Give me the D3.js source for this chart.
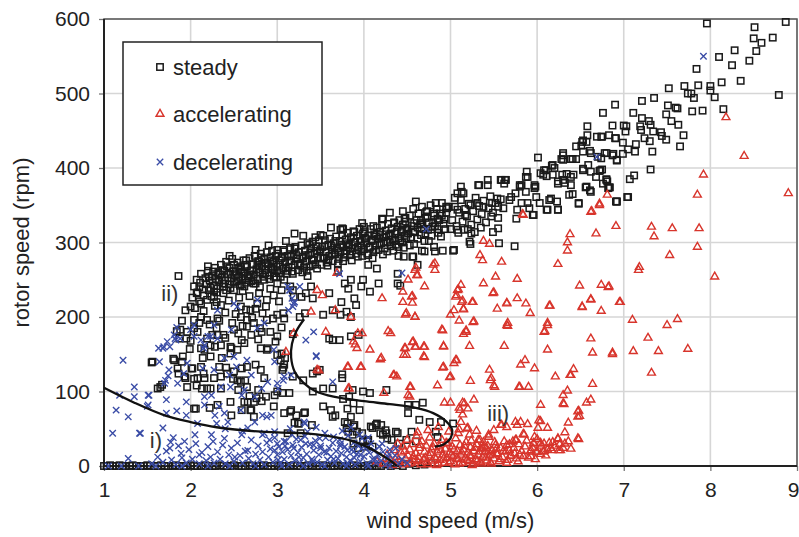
<!DOCTYPE html>
<html>
<head>
<meta charset="utf-8">
<script src="https://cdn.jsdelivr.net/npm/d3@7"></script>
<style>
  html, body { margin: 0; padding: 0; background: #fff; }
  svg { display: block; }
  text { font-family: "Liberation Sans", Arial, Helvetica, sans-serif; }
</style>
</head>
<body>
<svg id="chart" width="799" height="537"></svg>
<script>
// Axis ticks
const xTicks = [1, 2, 3, 4, 5, 6, 7, 8, 9];
const yTicks = [0, 100, 200, 300, 400, 500, 600];

const seriesNames = ["steady", "accelerating", "decelerating"];
const annotations = [["ii)", 1.76, 232], ["i)", 1.6, 35], ["iii)", 5.55, 71]];

// Trajectory i): decelerating branch
const curveI = [[1.0,105],[1.35,85],[1.7,68],[2.0,59],[2.3,52],[2.6,48],[3.0,45],[3.3,44],[3.6,40],[3.85,34],[4.05,25],[4.2,15],[4.32,6],[4.38,0]];
// Trajectory ii) -> iii)
const curveII = [[3.31,197],[3.22,181],[3.17,164],[3.16,146],[3.2,127],[3.3,112],[3.45,100],[3.65,93],[4.0,87],[4.3,83],[4.6,78],[4.8,71],[4.95,60],[5.02,48],[5.0,37],[4.92,29],[4.82,26]];

// Steady points: rotor idle at 0 rpm
const steadyIdle = [[1.0,0],[1.03,0],[1.07,1],[1.1,0],[1.14,0],[1.18,1],[1.21,0],[1.25,0],[1.3,0],[1.33,1],[1.37,0],[1.42,0],[1.46,0],[1.5,1],[1.53,0],[1.58,0],[1.62,0],[1.66,1],[1.7,0],[1.74,0],[1.79,0],[1.83,1],[1.87,0],[1.92,0],[1.95,0],[2.0,1],[2.04,0],[2.08,0],[2.13,0],[2.17,1],[2.2,0],[2.25,0],[2.29,0],[2.34,1],[2.38,0],[2.42,0],[2.46,0],[2.5,1],[2.55,0],[2.59,0],[2.63,0],[2.68,1],[2.71,0],[2.76,0],[2.8,0],[2.84,1],[2.89,0],[2.93,0],[2.97,0],[3.02,1],[3.06,0],[3.1,0],[3.15,0],[3.19,1],[3.23,0],[3.27,0],[3.32,0],[3.36,1],[3.4,0],[3.45,0],[3.49,0],[3.53,1],[3.57,0],[3.62,0],[3.66,0],[3.7,1],[3.75,0],[3.79,0],[3.84,0],[3.88,1],[3.92,0],[3.97,0],[4.01,0],[4.06,1],[4.1,0],[4.15,0],[4.2,0],[4.25,2],[4.31,0],[4.38,1],[4.45,0],[4.52,3],[4.6,1],[4.7,2],[4.78,4]];

// Steady points: low-wind cloud (region ii)
const steadyLow = [[1.55,139],[1.56,140],[1.62,104],[1.65,106],[1.67,109],[1.8,144],[1.81,142],[1.84,181],[1.85,131],[1.86,124],[1.86,255],[1.87,171],[1.88,183],[1.9,140],[1.91,147],[1.93,120],[1.94,118],[1.94,209],[1.95,171],[1.96,106],[1.96,180],[1.99,157],[2.0,214],[2.01,131],[2.02,131],[2.04,117],[2.04,77],[2.04,185],[2.04,196],[2.06,77],[2.07,108],[2.07,232],[2.08,118],[2.08,180],[2.1,240],[2.12,133],[2.12,158],[2.12,200],[2.12,218],[2.13,104],[2.14,145],[2.15,124],[2.16,118],[2.16,156],[2.19,104],[2.19,171],[2.19,196],[2.19,223],[2.22,78],[2.23,104],[2.23,147],[2.23,162],[2.27,118],[2.27,227],[2.28,160],[2.31,82],[2.31,176],[2.31,198],[2.33,133],[2.35,104],[2.35,120],[2.36,145],[2.35,162],[2.35,216],[2.38,176],[2.38,232],[2.41,132],[2.42,124],[2.46,86],[2.46,151],[2.46,160],[2.47,68],[2.47,158],[2.49,117],[2.5,127],[2.5,183],[2.5,236],[2.54,115],[2.54,156],[2.55,102],[2.58,113],[2.58,200],[2.58,214],[2.59,75],[2.59,131],[2.59,169],[2.62,86],[2.62,241],[2.63,115],[2.65,106],[2.65,133],[2.65,187],[2.65,196],[2.66,86],[2.68,94],[2.69,75],[2.69,209],[2.7,75],[2.7,176],[2.73,86],[2.73,66],[2.73,192],[2.73,245],[2.75,136],[2.76,91],[2.77,218],[2.78,102],[2.8,185],[2.81,129],[2.81,158],[2.82,87],[2.82,180],[2.85,118],[2.85,250],[2.87,93],[2.88,156],[2.88,196],[2.88,223],[2.89,158],[2.96,80],[2.96,229],[2.96,254],[2.97,95],[2.98,167],[3.0,100],[3.0,149],[3.0,174],[3.0,203],[3.04,142],[3.06,98],[3.06,129],[3.08,136],[3.08,198],[3.08,250],[3.08,71],[3.15,73],[3.15,241],[3.19,227],[3.31,71],[3.25,57],[3.4,55],[3.12,44],[3.27,44],
[2.15,208],[2.22,190],[2.28,215],[2.33,195],[2.4,206],[2.44,222],[2.48,192],[2.52,204],[2.56,226],[2.6,188],[2.64,210],[2.68,228],[2.71,199],[2.75,211],[2.79,232],[2.83,205],[2.87,214],[2.92,238],[2.95,198],[3.02,221],[3.05,236],[2.4,172],[2.55,178],[2.62,165],[2.78,170],[2.92,180],[3.05,186],[2.3,185],[2.0,168],[1.9,195],[2.1,192],[2.25,176]];

// Steady points: mid-wind region inside trajectory iii
const steadyMid = [[3.05,151],[3.07,132],[3.07,205],[3.09,145],[3.14,98],[3.16,75],[3.18,120],[3.18,177],[3.18,236],[3.2,58],[3.22,68],[3.24,57],[3.26,200],[3.28,227],[3.3,115],[3.32,72],[3.32,205],[3.33,232],[3.39,241],[3.41,100],[3.41,124],[3.41,225],[3.46,127],[3.49,129],[3.53,80],[3.53,104],[3.53,203],[3.6,171],[3.6,232],[3.62,75],[3.64,66],[3.64,104],[3.64,169],[3.64,209],[3.67,68],[3.72,169],[3.73,203],[3.74,220],[3.75,118],[3.75,123],[3.76,90],[3.78,59],[3.78,245],[3.8,51],[3.8,207],[3.81,57],[3.81,77],[3.82,46],[3.82,238],[3.83,93],[3.85,66],[3.85,174],[3.85,200],[3.85,250],[3.87,42],[3.87,102],[3.88,30],[3.88,53],[3.88,84],[3.89,55],[3.89,225],[3.91,216],[3.92,46],[3.93,24],[3.94,176],[3.95,75],[3.97,241],[3.98,44],[3.99,33],[3.99,100],[3.99,250],[4.01,26],[4.04,33],[4.05,35],[4.07,98],[4.07,234],[4.08,53],[4.1,26],[4.1,51],[4.14,55],[4.15,57],[4.15,265],[4.17,245],[4.19,44],[4.2,55],[4.22,42],[4.25,48],[4.26,44],[4.26,102],[4.27,37],[4.32,35],[4.37,46],[4.39,44],[4.39,245],[4.39,258],[4.41,30],[4.42,242],[4.49,35],[4.51,71],[4.51,82],[4.55,46],[4.57,281],[4.6,33],[4.6,82],[4.64,62],[4.68,85],[4.7,288],[4.76,59],[4.82,288],[4.83,46],[4.85,39],[4.89,59],[4.91,289],[5.03,57],[5.03,289],[4.81,294],[4.67,289],[4.56,281],[4.46,281],[4.62,270]];

// Steady points: main operating band
const steadyBand = [[2.02,226],[2.04,241],[2.05,212],[2.07,250],[2.08,233],[2.1,221],[2.11,246],[2.12,258],[2.14,237],[2.15,229],[2.17,252],[2.18,244],[2.2,262],[2.21,236],[2.22,249],[2.24,228],[2.25,255],[2.27,242],[2.28,266],[2.29,251],[2.31,238],[2.32,259],[2.33,247],[2.35,270],[2.36,253],[2.37,241],[2.39,262],[2.4,249],[2.41,274],[2.43,257],[2.44,244],[2.45,266],[2.47,252],[2.48,278],[2.49,261],[2.5,247],
[2.52,261],[2.53,248],[2.54,273],[2.56,254],[2.57,242],[2.58,264],[2.6,251],[2.61,276],[2.62,258],[2.64,246],[2.65,268],[2.66,255],[2.68,279],[2.69,262],[2.7,248],[2.72,271],[2.73,257],[2.74,282],[2.76,264],[2.77,251],[2.78,275],[2.8,260],[2.81,285],[2.82,268],[2.84,254],[2.85,278],[2.86,263],[2.88,287],[2.89,271],[2.9,256],[2.92,280],[2.93,266],[2.94,289],[2.96,274],[2.97,259],[2.98,282],
[3.0,263],[3.01,285],[3.03,270],[3.04,254],[3.05,279],[3.07,265],[3.08,288],[3.09,273],[3.11,258],[3.12,282],[3.13,267],[3.15,291],[3.16,275],[3.17,261],[3.19,284],[3.2,270],[3.21,294],[3.23,278],[3.24,263],[3.25,287],[3.27,272],[3.28,296],[3.29,281],[3.31,266],[3.32,289],[3.33,275],[3.35,299],[3.36,283],[3.37,268],[3.39,292],[3.4,277],[3.41,301],[3.43,285],[3.44,271],[3.45,295],[3.47,280],[3.48,303],[3.49,288],
[3.51,270],[3.52,294],[3.53,279],[3.55,303],[3.56,287],[3.57,273],[3.59,297],[3.6,282],[3.61,305],[3.63,290],[3.64,275],[3.65,299],[3.67,284],[3.68,308],[3.69,292],[3.71,278],[3.72,302],[3.73,287],[3.75,310],[3.76,295],[3.77,280],[3.79,304],[3.8,289],[3.81,313],[3.83,297],[3.84,283],[3.85,307],[3.87,292],[3.88,315],[3.89,300],[3.91,285],[3.92,309],[3.93,294],[3.95,318],[3.96,302],[3.97,288],[3.99,312],
[4.0,291],[4.01,315],[4.03,299],[4.04,285],[4.05,309],[4.07,294],[4.08,318],[4.09,302],[4.11,287],[4.12,311],[4.13,296],[4.15,320],[4.16,305],[4.17,290],[4.19,314],[4.2,299],[4.21,323],[4.23,307],[4.24,292],[4.25,316],[4.27,301],[4.28,325],[4.29,309],[4.31,295],[4.32,319],[4.33,304],[4.35,327],[4.36,312],[4.37,297],[4.39,321],[4.4,306],[4.41,330],[4.43,314],[4.44,300],[4.45,324],[4.47,309],[4.48,333],[4.49,317],
[4.51,312],[4.53,336],[4.55,322],[4.57,345],[4.59,315],[4.61,330],[4.63,339],[4.65,324],[4.67,348],[4.69,318],[4.71,333],[4.73,342],[4.75,327],[4.77,350],[4.79,321],[4.81,336],[4.84,345],[4.87,330],[4.9,353],[4.92,325],[4.95,340],[4.98,348],
[2.23,239],[2.26,261],[2.3,233],[2.34,257],[2.38,245],[2.42,268],[2.46,239],[2.51,256],[2.55,266],[2.59,244],[2.63,270],[2.67,252],[2.71,262],[2.75,245],[2.79,268],[2.83,257],[2.87,273],[2.91,251],[2.95,264],[2.99,270],[3.02,259],[3.06,281],[3.1,266],[3.14,276],[3.18,258],[3.22,283],[3.26,269],[3.3,279],[3.34,262],[3.38,286],[3.42,276],[3.46,265],[3.5,291],[3.54,280],[3.58,269],[3.62,296],[3.66,286],[3.7,272],[3.74,297],[3.78,285],[3.82,294],[3.86,276],[3.9,301],[3.94,290],[3.98,282],[4.02,305],[4.06,293],[4.1,279],[4.14,308],[4.18,297],[4.22,284],[4.26,311],[4.3,300],[4.34,289],[4.38,315],[4.42,303],[4.46,293],[4.5,319],[4.54,307],[4.58,298],[4.62,320],[4.66,310],[4.7,302],[4.74,317],[4.78,309],[4.82,322],[4.86,313],[4.9,336],[4.94,318],
[2.21,254],[2.27,234],[2.32,249],[2.37,263],[2.41,236],[2.46,258],[2.5,270],[2.55,249],[2.59,261],[2.64,276],[2.68,257],[2.72,249],[2.77,270],[2.82,280],[2.86,259],[2.9,268],[2.94,276],[2.99,253],[3.03,276],[3.07,290],[3.12,262],[3.16,281],[3.2,292],[3.24,271],[3.29,260],[3.33,283],[3.37,297],[3.41,270],[3.46,289],[3.5,279],[3.55,295],[3.59,276],[3.63,285],[3.67,302],[3.71,289],[3.76,275],[3.8,299],[3.84,288],[3.88,305],[3.93,281],[3.97,296],[4.01,306],[4.05,283],[4.1,304],[4.14,290],[4.18,310],[4.23,300],[4.27,288],[4.31,312],[4.36,302],[4.4,294],[4.44,317],[4.49,306],[4.53,296],[4.57,314],[4.62,305],[4.66,326],[4.71,312],[4.75,302],[4.8,326],[4.85,318],[4.89,308],[4.93,331],
[2.45,282],[2.9,296],[3.3,309],[3.62,320],[3.98,326],[4.45,342],[2.2,268],[2.75,290],[3.1,302],[4.3,340],[3.2,312],[4.6,355],[2.6,235],[3.0,245],[3.35,255],[3.7,262],[4.05,270],[4.4,282],[2.3,220],[2.8,240],
[3.75,319],[4.0,321],[4.11,322],[4.21,332],[3.5,310],[3.44,307],[3.15,293],[3.0,290],[2.79,274],[2.58,268],[4.35,326],[3.76,318],[3.89,314],[4.22,331],[4.47,332],[4.83,353],[4.72,341],[4.95,348],[3.53,309],[3.41,301],[3.73,317],
[5.02,330],[5.05,348],[5.07,322],[5.1,340],[5.12,357],[5.14,328],[5.17,345],[5.19,335],[5.21,352],[5.24,324],[5.26,342],[5.29,360],[5.31,331],[5.33,349],[5.36,338],[5.38,356],[5.41,327],[5.44,346],[5.46,362],[5.49,340],[5.52,353],[5.55,333],[5.58,358],[5.61,346],[5.0,318],[5.09,313],[5.2,318],[5.35,320],[5.05,360],[5.15,366]];

// Steady points: high wind
const steadyHigh = [[5.32,377],[5.43,377],[5.62,379],[5.82,377],[5.97,377],[6.24,379],[6.57,375],[6.62,368],[6.76,379],[6.82,373],[6.91,355],[6.48,352],[6.37,364],[6.24,344],[6.12,344],[6.14,357],[6.03,353],[5.95,337],[5.76,332],[5.91,346],[5.82,353],[5.68,357],[5.55,348],[5.47,335],[5.49,314],[5.55,319],[5.28,314],[5.24,312],[5.16,317],[5.08,317],[5.22,301],[5.23,298],[5.56,299],[5.74,295],[5.04,290],
[6.58,456],[6.58,444],[6.69,442],[6.45,429],[6.52,435],[6.57,435],[6.53,422],[6.62,420],[6.01,414],[6.3,417],[6.3,411],[6.41,412],[6.45,412],[6.17,403],[6.2,400],[6.08,397],[5.88,395],[5.87,388],[6.04,393],[6.11,389],[6.29,391],[6.34,392],[6.42,391],[6.32,380],[6.24,382],[6.53,399],[6.62,395],[6.56,374],[6.72,396],[6.81,382],[5.58,384],[5.63,384],[5.43,384],[5.33,377],[5.13,368],[5.08,366],[5.8,375],[5.98,375],[5.87,368],[5.75,366],[5.7,361],[5.99,361],[6.16,359],[6.23,355],[6.41,365],[6.48,353],[5.89,353],[6.11,344],[6.24,344],[5.96,337],[5.77,344],[5.54,359],[5.48,353],[5.38,348],[5.31,353],[5.23,350],[5.17,337],[5.08,344],[4.96,346],[4.88,339],[4.81,339],[4.85,332],[4.73,335],[4.66,330],[4.58,326],[4.48,328],[6.92,355],[7.04,361],
[6.76,474],[6.53,437],[6.51,430],[6.3,420],[6.39,412],[6.28,412],[6.74,442],[6.83,444],[6.91,440],[6.61,423],[6.7,415],[6.74,413],[6.8,420],[6.87,417],[6.92,411],[6.53,397],[6.59,404],[6.73,397],[6.68,388],[6.8,384],[6.61,370],[6.83,374],[6.18,404],[6.1,397],[6.07,391],[5.89,388],[6.18,391],[6.3,384],[6.39,388],[6.39,377],[5.8,377],[5.97,373],[5.59,384],[5.64,384],[5.12,375],
[7.96,594],[8.51,589],[8.87,596],[8.5,574],[8.59,568],[8.72,575],[8.53,557],[8.45,544],[8.28,558],[8.25,538],[8.1,549],[7.84,533],[8.35,517],[8.13,515],[8.79,498],[7.7,510],[7.86,511],[7.52,507],[8.0,510],[8.0,504],[8.05,495],[7.74,500],[7.78,500],[7.81,494],[7.21,490],[7.35,494],[6.9,485],[7.51,484],[7.6,481],[7.62,480],[7.49,472],[7.79,476],[7.91,477],[8.15,479],[7.11,474],[7.21,467],[7.29,463],[7.31,458],[7.55,463],[7.63,458],[6.87,457],[7.0,457],[7.03,456],[7.02,449],[7.19,456],[7.2,451],[7.34,449],[7.43,448],[7.44,443],[7.49,438],[7.69,444],[7.65,429],[6.75,442],[6.9,440],[6.99,434],[7.14,432],[7.24,440],[7.3,436],[7.05,425],[7.13,422],[7.33,422],[6.78,420],[6.88,419],[6.92,410],[6.99,419],[7.31,398],[7.12,390],[7.07,385],[6.8,385],[6.84,374],[7.05,361],[6.92,355],[6.75,398]];

// Accelerating points
const accelerating = [[8.18,468],[8.39,416],[7.92,391],[7.85,364],[8.9,366],[6.81,364],[6.72,352],[6.63,342],[6.91,322],[6.68,312],[6.38,311],[6.35,300],[6.35,289],[6.24,271],[7.32,321],[7.35,308],[7.56,319],[7.87,319],[7.85,294],[7.53,283],[7.18,267],[5.83,338],[5.38,302],[5.45,298],[5.34,283],[5.37,276],[5.59,274],[4.8,270],[4.6,266],
[8.05,254],[7.17,263],[6.49,242],[6.74,243],[6.82,240],[6.62,223],[6.95,220],[6.52,213],[6.74,208],[6.14,215],[7.1,196],[7.62,197],[7.5,189],[7.28,172],[7.74,157],[7.4,154],[7.11,154],[6.87,152],[6.64,152],[6.62,171],[6.12,189],[6.08,180],[6.12,156],[7.32,125],[6.64,110],[6.42,130],[6.39,122],[6.21,120],[5.97,131],[5.81,136],[5.9,106],[5.79,106],[5.45,129],[5.46,115],[5.51,106],[5.23,114],[4.85,108],[4.99,119],[4.92,133],[5.04,138],[5.06,142],[4.92,161],[5.22,161],[5.62,161],[4.91,182],[5.15,177],[5.18,182],[5.26,193],[5.1,195],[5.0,203],[5.65,189],[5.92,205],[5.54,211],[5.77,225],[5.87,218],[5.65,219],[5.49,232],[5.38,245],[5.52,254],[5.77,251],[5.25,220],[5.13,220],[5.15,211],[5.04,209],[5.06,227],[5.12,243],[5.09,237],[4.61,256],[4.56,228],[4.56,219],[4.59,200],[4.48,203],[4.48,158],[4.56,166],[4.59,160],[4.69,160],[4.7,146],[4.46,149],[4.54,106],[4.53,93],[4.93,85],[5.0,85],[5.14,85],[5.2,77],[5.27,89],[5.11,75],[5.09,44],[5.19,50],[5.22,42],[5.24,34],[5.34,35],[5.44,39],[5.37,24],[5.59,55],[5.65,52],[5.77,55],[5.81,59],[5.89,56],[5.75,35],[5.85,42],[5.97,39],[6.02,61],[6.01,51],[6.12,51],[6.04,31],[5.96,31],[6.0,19],[5.92,19],[6.07,19],[6.17,21],[6.25,21],[6.24,36],[6.32,45],[6.36,58],[6.32,30],[6.39,23],[6.47,37],[6.47,66],[6.47,73],[6.3,84],[5.86,142],
[5.18,180],[5.66,188],[6.09,181],[6.87,150],[5.07,142],[5.47,118],[5.5,108],[5.8,106],[6.38,122],[6.35,101],[6.3,95],[6.31,83],[6.57,85],[6.62,89],[6.04,82],[5.16,84],[5.1,78],[5.14,69],[5.12,59],[5.2,51],[5.58,55],[5.75,59],[5.84,43],[5.76,35],[6.04,60],[6.24,37],[6.27,21],[6.16,24],[6.48,36],[6.48,74],[6.49,67],[5.44,42],[5.51,32],[5.32,35],[5.41,24],[5.53,17],[5.65,28],[5.68,21],[5.74,17],[5.8,15],[5.93,21],[5.96,30],[5.99,19],[6.08,20],[6.08,30],[5.93,13],
[3.93,178],[3.9,163],[3.92,158],[4.07,156],[4.2,145],[3.97,133],[3.82,133],[4.34,122],[3.82,104],[4.53,106],[4.51,95],[4.28,181],[4.57,167],[4.6,160],[4.47,158],[4.49,149],[4.7,160],[4.69,147],[4.9,183],[4.92,160],[4.91,132],[5.0,120],[3.48,128],[3.69,259],[3.46,236],[3.52,229],[3.39,207],[3.67,209],[3.85,200],[4.21,225],[3.98,178],[3.88,167],[4.31,178],[4.19,143],[3.56,180],[3.46,129],[3.81,133],[3.96,133],[4.35,122],[4.38,120],[3.83,104],[4.23,98],[3.1,153],[3.19,178],[4.49,205],[4.59,200],[4.45,234],[4.45,220],[4.55,227],[4.51,250],[4.59,263],[4.62,256],[4.7,241],[4.82,272],[4.82,263],[6.72,350],[6.62,341],[5.84,337],[5.08,236],[5.5,233],[5.65,218],[5.26,220],[5.14,222],[5.15,210],[5.07,229],[6.15,215],[6.83,241],[6.62,224],[6.52,214],[6.96,220],[6.12,192],[5.66,192],[5.27,194],
[4.15,6],[4.22,3],[4.27,15],[4.3,9],[4.33,1],[4.35,21],[4.38,12],[4.39,30],[4.41,5],[4.43,18],[4.45,26],[4.46,2],[4.48,10],[4.5,35],[4.51,14],[4.53,22],[4.55,4],[4.56,29],[4.58,8],[4.6,17],[4.61,40],[4.63,12],[4.64,24],[4.66,2],[4.67,33],[4.69,9],[4.7,19],[4.72,27],[4.73,5],[4.75,14],[4.76,38],[4.78,22],[4.79,7],[4.81,30],[4.82,12],[4.84,1],[4.85,19],[4.87,26],[4.88,8],[4.9,35],[4.91,15],[4.93,4],[4.94,23],[4.96,11],[4.97,30],[4.99,18],[5.0,6],[5.02,26],[5.03,13],[5.05,2],[5.06,37],[5.08,20],[5.09,9],[5.11,28],[5.12,15],[5.14,4],[5.15,22],[5.17,11],[5.18,32],[5.2,18],[5.21,6],[5.23,25],[5.24,13],[5.26,3],[5.27,20],[5.29,9],[5.3,29],[5.32,15],[5.34,5],[5.35,23],[5.37,12],[5.38,32],[5.4,18],[5.42,7],[5.43,27],[5.45,14],[5.47,3],[5.48,21],[5.5,10],[5.52,28],[5.54,16],[5.56,6],[5.58,24],[5.6,12],[5.62,33],[5.64,19],[5.66,8],[5.68,29],[5.7,14],[5.73,24],[5.76,10],[5.79,29],[5.82,20],[5.86,26],[5.9,11],[5.95,24],[6.0,36],[6.05,27],[6.1,14],[6.14,31],[6.2,27],[6.3,24],[6.36,33],[4.62,45],[4.74,48],[4.86,52],[4.98,46],[5.1,49],[5.3,47],[5.5,48],
[4.4,8],[4.47,20],[4.52,3],[4.57,13],[4.62,6],[4.65,28],[4.71,11],[4.74,2],[4.77,17],[4.8,25],[4.83,9],[4.86,3],[4.89,21],[4.92,10],[4.95,31],[4.98,4],[5.01,15],[5.04,22],[5.07,10],[5.1,3],[5.13,18],[5.16,27],[5.19,8],[5.22,14],[5.25,1],[5.28,24],[5.31,7],[5.33,19],[5.36,3],[5.39,26],[5.41,11],[5.44,20],[5.46,5],[5.49,15],[5.53,23],[5.57,9],[5.61,20],[5.65,4],[5.69,13],[5.72,33],[5.78,6],[5.84,13],[5.88,34],[5.98,9],[6.04,16],[6.12,22],[6.18,32],[6.26,29]];

// Decelerating points
const decelerating = [[7.92,550],[6.69,415],[4.72,318],[4.44,259],[3.72,258],[3.15,236],[3.2,220],[3.14,236],[3.18,214],[3.26,241],[3.33,169],[3.45,147],[3.64,113],[3.07,115],[3.16,122],[3.32,57],
[1.22,142],[1.18,95],[1.35,106],[1.35,93],[1.51,95],[1.51,82],[1.14,75],[1.28,66],[1.1,44],[1.41,44],[1.28,10],[1.68,51],[1.72,71],[1.84,74],[1.72,89],[1.7,111],[1.74,121],[1.64,140],[1.68,158],[1.76,160],[1.82,171],[1.84,186],[1.95,86],[1.95,68],[1.77,32],[1.8,38],[1.76,24],[1.89,17],[1.93,33],[2.05,42],[2.16,82],[2.28,68],[2.3,57],[2.08,57],[2.33,80],[2.39,71],[2.43,59],[2.24,42],[2.26,33],[2.39,37],[2.59,42],[2.66,51],[2.74,59],[2.83,68],[2.93,68],[2.83,42],[2.66,21],[2.1,15],[2.51,12],[2.91,35],[2.97,46],[2.97,21],[2.14,131],[2.16,93],[2.24,95],[2.35,106],[2.45,122],[2.53,133],[2.59,95],[2.74,93],[2.82,104],[2.89,113],[2.7,122],[2.39,145],[2.16,162],[2.2,174],[2.31,171],[2.47,183],[2.97,140],[3.01,104],
[1.42,44],[1.5,80],[1.52,95],[1.63,158],[1.69,160],[1.73,167],[1.81,176],[1.83,169],[1.88,171],[1.75,129],[1.71,115],[1.85,111],[1.92,124],[1.96,138],[2.0,183],[2.04,189],[2.04,174],[2.12,169],[2.15,158],[2.23,174],[2.27,189],[2.31,209],[2.5,218],[2.54,214],[2.77,223],[2.85,192],[2.77,185],[2.96,156],[3.12,241],[3.17,225],[3.19,218],[3.13,209],[3.42,180],[3.45,148],[2.27,129],[2.5,147],[2.65,142],[2.62,102],[2.46,106],[2.58,75],[3.0,111],[3.08,120],[2.88,66],[2.85,44],[3.0,30],[3.08,33],[3.19,24],[3.27,35],[3.31,59],[3.42,28],[3.5,24],[3.65,39],[3.73,30],[3.81,21],[3.88,19],[3.96,15],
[1.55,3],[1.62,12],[1.68,5],[1.72,20],[1.78,8],[1.83,2],[1.86,27],[1.9,11],[1.95,4],[1.98,22],[2.02,9],[2.06,30],[2.1,3],[2.13,18],[2.18,7],[2.2,26],[2.23,12],[2.27,4],[2.31,19],[2.34,9],[2.37,28],[2.4,3],[2.44,15],[2.47,24],[2.5,6],[2.54,31],[2.57,14],[2.6,4],[2.63,20],[2.67,10],[2.7,35],[2.72,3],[2.75,16],[2.78,27],[2.8,8],[2.83,19],[2.85,2],[2.88,31],[2.9,12],[2.92,23],[2.95,5],[2.97,38],[3.0,15],[3.02,26],[3.04,4],[3.06,19],[3.08,9],[3.1,33],[3.12,22],[3.14,2],[3.16,14],[3.18,28],[3.2,7],[3.22,36],[3.24,18],[3.26,4],[3.28,25],[3.3,11],[3.32,40],[3.34,16],[3.36,3],[3.38,29],[3.4,9],[3.42,21],[3.44,34],[3.46,5],[3.48,15],[3.5,27],[3.52,2],[3.54,19],[3.56,38],[3.58,8],[3.6,24],[3.62,13],[3.64,31],[3.66,4],[3.68,20],[3.7,10],[3.72,35],[3.74,17],[3.76,3],[3.78,26],[3.8,12],[3.82,41],[3.84,7],[3.86,22],[3.88,31],[3.9,2],[3.92,16],[3.94,27],[3.96,6],[3.98,37],[4.0,13],[4.02,24],[4.04,3],[4.06,18],[4.08,30],[4.1,9],[4.12,21],[4.14,4],[4.16,15],[4.18,26],[4.2,7],[4.22,19],[4.25,2],[4.28,12],[4.3,22],[4.33,5],[4.36,14],[4.4,3],[4.44,9],[4.5,4],[3.35,46],[3.55,44],[3.75,47],[3.95,42],[2.6,47],[2.4,50],[3.15,50],
[3.01,8],[3.09,27],[3.17,42],[3.25,12],[3.33,30],[3.41,6],[3.49,37],[3.57,18],[3.65,9],[3.73,27],[3.81,4],[3.89,11],[3.97,23],[4.05,38],[4.13,9],[4.21,30],[4.29,16],[4.37,24],[3.45,52],[3.85,52],
[1.05,0],[1.2,0],[1.4,0],[1.6,0],[1.9,0],[2.2,0],[2.45,0],[2.75,0],[3.05,0],[3.3,0],[3.55,0],[3.8,0],[4.05,0],[4.3,0]];

const steady = [].concat(steadyIdle, steadyLow, steadyMid, steadyBand, steadyHigh);

// ---------------------------------------------------------------
const svg = d3.select("#chart");
const x = d3.scaleLinear().domain([1, 9]).range([104, 797]);
const y = d3.scaleLinear().domain([0, 600]).range([466, 19]);

const colSteady = "#1a1a1a";
const colAcc = "#d8352c";
const colDec = "#3a4ca6";

// Grid
const grid = svg.append("g");
grid.selectAll("line.gx").data(xTicks).join("line")
  .attr("x1", d => x(d)).attr("x2", d => x(d))
  .attr("y1", y(0)).attr("y2", y(600))
  .attr("stroke", "#d6d6d6").attr("stroke-width", 1.6);
grid.selectAll("line.gy").data(yTicks).join("line")
  .attr("x1", x(1)).attr("x2", x(9))
  .attr("y1", d => y(d)).attr("y2", d => y(d))
  .attr("stroke", "#d6d6d6").attr("stroke-width", 1.6);

// Axes
const fontSize = 21;
const yAxis = svg.append("g").attr("transform", `translate(${x(1)},0)`)
  .call(d3.axisLeft(y).tickValues(yTicks).tickSize(5).tickPadding(9));
const xAxis = svg.append("g").attr("transform", `translate(0,${y(0)})`)
  .call(d3.axisBottom(x).tickValues(xTicks).tickSize(5).tickPadding(11));
[yAxis, xAxis].forEach(a => {
  a.select(".domain").remove();
  a.selectAll(".tick line").attr("stroke", "#777").attr("stroke-width", 1.3);
  a.selectAll(".tick text").attr("font-size", fontSize).attr("fill", "#222")
    .attr("font-family", "'Liberation Sans', Arial, sans-serif");
});
// keep the last wind-speed label inside the page edge
xAxis.selectAll(".tick text").filter(d => d === 9)
  .attr("text-anchor", "end").attr("x", 2);

// Frame
svg.append("rect")
  .attr("x", x(1)).attr("y", y(600))
  .attr("width", x(9) - x(1)).attr("height", y(0) - y(600))
  .attr("fill", "none").attr("stroke", "#555").attr("stroke-width", 1.5);
svg.append("line").attr("x1", x(1)).attr("x2", x(1)).attr("y1", y(600)).attr("y2", y(0))
  .attr("stroke", "#222").attr("stroke-width", 2);
svg.append("line").attr("x1", x(1)).attr("x2", x(9)).attr("y1", y(0)).attr("y2", y(0))
  .attr("stroke", "#222").attr("stroke-width", 2);

// Markers
const marks = svg.append("g");
const sq = 6.4;
marks.append("g").selectAll("rect").data(steady).join("rect")
  .attr("x", d => x(d[0]) - sq / 2).attr("y", d => y(d[1]) - sq / 2)
  .attr("width", sq).attr("height", sq)
  .attr("fill", "none").attr("stroke", colSteady).attr("stroke-width", 1.5);

const tri = d3.symbol().type(d3.symbolTriangle).size(27);
marks.append("g").selectAll("path").data(accelerating).join("path")
  .attr("d", tri)
  .attr("transform", d => `translate(${x(d[0])},${y(d[1])})`)
  .attr("fill", "none").attr("stroke", colAcc).attr("stroke-width", 1.4);

const cr = 3.2;
marks.append("g").selectAll("path").data(decelerating).join("path")
  .attr("d", `M${-cr},${-cr}L${cr},${cr}M${-cr},${cr}L${cr},${-cr}`)
  .attr("transform", d => `translate(${x(d[0])},${y(d[1])})`)
  .attr("fill", "none").attr("stroke", colDec).attr("stroke-width", 1.35);

// Trajectories
const line = d3.line().x(d => x(d[0])).y(d => y(d[1])).curve(d3.curveCatmullRom.alpha(0.5));
[curveI, curveII].forEach(c => {
  svg.append("path").attr("d", line(c))
    .attr("fill", "none").attr("stroke", "#111").attr("stroke-width", 2.3);
});

// Region labels
svg.selectAll("text.ann").data(annotations).join("text")
  .attr("x", d => x(d[1])).attr("y", d => y(d[2]))
  .attr("text-anchor", "middle").attr("dy", "0.35em")
  .attr("font-size", 22).attr("fill", "#333").text(d => d[0]);

// Axis titles
svg.append("text").attr("x", (x(1) + x(9)) / 2).attr("y", 528)
  .attr("text-anchor", "middle").attr("font-size", 22).attr("fill", "#222")
  .text("wind speed (m/s)");
svg.append("text").attr("transform", `translate(29,${(y(0) + y(600)) / 2}) rotate(-90)`)
  .attr("text-anchor", "middle").attr("font-size", 22).attr("fill", "#222")
  .text("rotor speed (rpm)");

// Legend
const lg = svg.append("g");
lg.append("rect").attr("x", 123).attr("y", 42).attr("width", 199).attr("height", 143)
  .attr("fill", "#fff").attr("stroke", "#222").attr("stroke-width", 1.5);
const rows = [67, 114, 162];
seriesNames.forEach((name, i) => {
  const cy = rows[i], cx = 160;
  if (i === 0) {
    lg.append("rect").attr("x", cx - sq / 2).attr("y", cy - sq / 2).attr("width", sq).attr("height", sq)
      .attr("fill", "none").attr("stroke", colSteady).attr("stroke-width", 1.5);
  } else if (i === 1) {
    lg.append("path").attr("d", tri).attr("transform", `translate(${cx},${cy})`)
      .attr("fill", "none").attr("stroke", colAcc).attr("stroke-width", 1.4);
  } else {
    lg.append("path").attr("d", `M${-cr},${-cr}L${cr},${cr}M${-cr},${cr}L${cr},${-cr}`)
      .attr("transform", `translate(${cx},${cy})`)
      .attr("fill", "none").attr("stroke", colDec).attr("stroke-width", 1.35);
  }
  lg.append("text").attr("x", 173).attr("y", cy).attr("dy", "0.35em")
    .attr("font-size", 22).attr("fill", "#222").text(name);
});
</script>
</body>
</html>
